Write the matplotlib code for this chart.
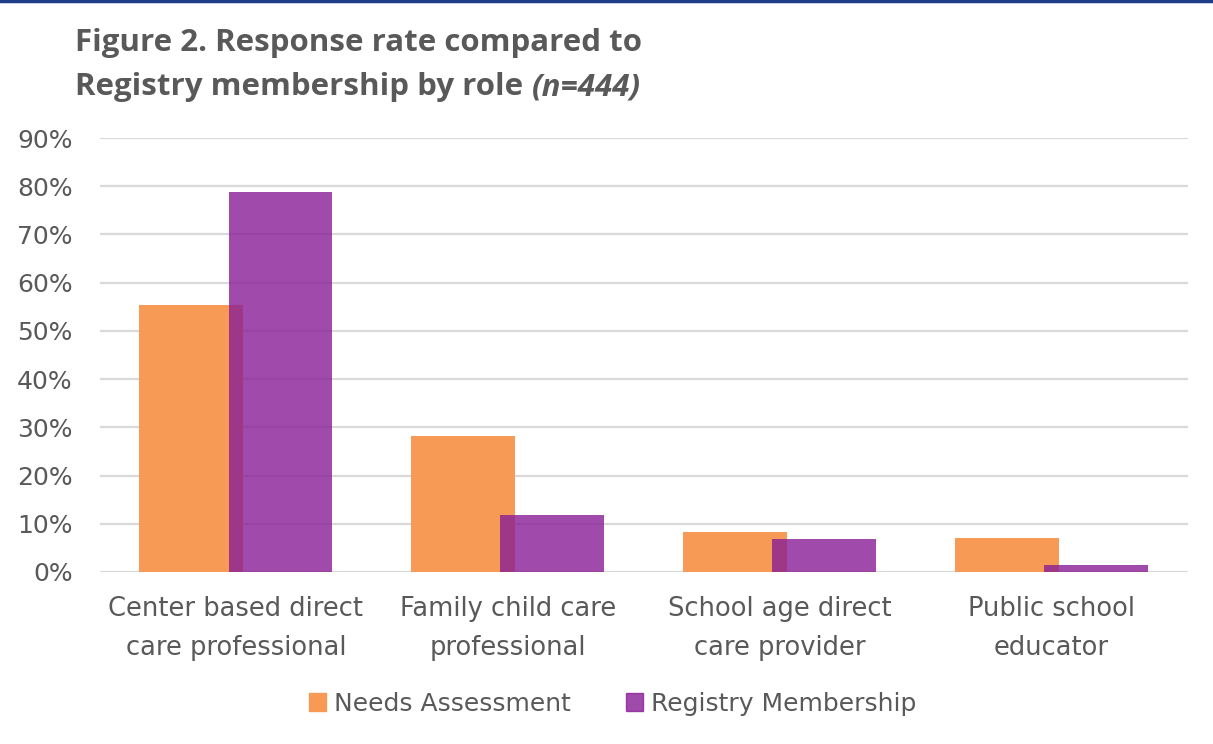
import numpy as np
import matplotlib.pyplot as plt
from matplotlib.lines import Line2D
from matplotlib.patches import Patch

# data
roles = ['Center based direct\ncare professional',
         'Family child care\nprofessional',
         'School age direct\ncare provider',
         'Public school\neducator']
needs_assessment = [55.4, 28.3, 8.3, 7.1]
registry_membership = [78.8, 11.8, 6.8, 1.4]
yticks = [0, 10, 20, 30, 40, 50, 60, 70, 80, 90]

orange = '#F79A55'
purple = (137/255, 30/255, 150/255)
text_grey = '#595959'
body_font = ['DejaVu Sans']

plt.rcParams['font.family'] = ['Open Sans', 'DejaVu Sans']

fig = plt.figure(figsize=(12.13, 7.44), dpi=100)
ax = fig.add_axes([0.0824, 0.2312, 0.8966, 0.5833])

x = np.arange(len(roles))
w = 0.382
off = 0.164
ax.bar(x - off, needs_assessment, w, color=orange, zorder=2)
ax.bar(x + off, registry_membership, w, color=purple, alpha=0.8, zorder=3)

ax.set_xlim(-0.5, len(roles) - 0.5)
ax.set_ylim(0, 90)
ax.set_yticks(yticks)
ax.set_yticklabels([f'{t}%' for t in yticks], family=body_font, fontsize=18)
ax.set_xticks(x)
ax.set_xticklabels(roles, linespacing=1.65, family=body_font, fontsize=18.5)
ax.tick_params(axis='both', length=0, colors=text_grey)
ax.tick_params(axis='y', pad=19.5)
ax.tick_params(axis='x', pad=17)
ax.yaxis.grid(True, color='#D9D9D9', linewidth=1.6, zorder=0)
ax.set_axisbelow(True)
for s in ax.spines.values():
    s.set_visible(False)

fig.text(0.062, 0.942, 'Figure 2. Response rate compared to',
         fontsize=22.5, fontweight='bold', color=text_grey, va='center')
fig.text(0.062, 0.883, 'Registry membership by role ',
         fontsize=22.5, fontweight='bold', color=text_grey, va='center')
t = fig.texts[-1]
fig.canvas.draw()
bb = t.get_window_extent()
fig.text(bb.x1 / fig.bbox.width, 0.883, '(n=444)', fontsize=22.5,
         fontweight='bold', fontstyle='italic', color=text_grey, va='center')

handles = [Patch(color=orange, label='Needs Assessment'),
           Patch(color=purple, alpha=0.8, label='Registry Membership')]
fig.legend(handles=handles, loc='center', bbox_to_anchor=(0.505, 0.054),
           ncol=2, frameon=False, handlelength=0.7,
           handleheight=0.7, handletextpad=0.3, columnspacing=2.2,
           labelcolor=text_grey, prop={'family': body_font, 'size': 18})

fig.add_artist(Line2D([0, 1], [0.998, 0.998], color='#1F3C88', linewidth=2.5,
                      transform=fig.transFigure))

fig.savefig('out.png', dpi=100)
